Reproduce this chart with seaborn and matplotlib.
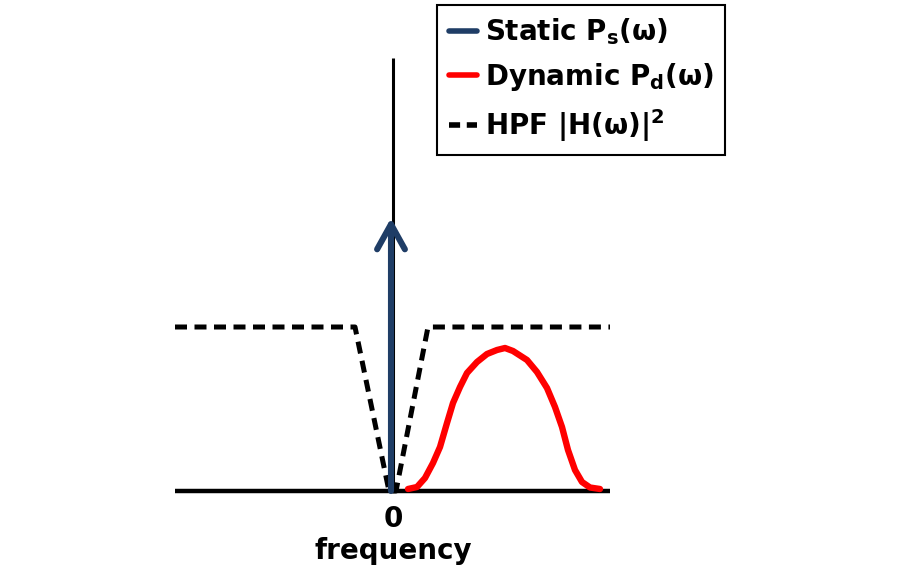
import numpy as np
import pandas as pd
import matplotlib
matplotlib.use("Agg")
import matplotlib.pyplot as plt
from matplotlib.lines import Line2D
import seaborn as sns

# ---- data (frequency axis, 0 = DC) ----
axis_x = [-2.18, 2.17]
axis_top = 4.33

static_freq = [0.0]
static_power = [2.73]

hpf_freq = [-2.18, -0.38, -0.04, 0.03, 0.35, 2.17]
hpf_gain = [1.64, 1.64, 0.0, 0.0, 1.64, 1.64]

dyn_freq = [0.15, 0.24, 0.32, 0.40, 0.47, 0.54, 0.60, 0.67, 0.74, 0.84, 0.94, 1.04,
            1.12, 1.20, 1.34, 1.44, 1.54, 1.62, 1.69, 1.75, 1.82, 1.89, 1.97, 2.07]
dyn_power = [0.02, 0.04, 0.13, 0.28, 0.44, 0.68, 0.88, 1.04, 1.18, 1.29, 1.37, 1.41,
             1.43, 1.40, 1.31, 1.19, 1.03, 0.84, 0.64, 0.41, 0.21, 0.09, 0.035, 0.02]

labels = ["Static P$_\\mathregular{s}$(ω)", "Dynamic P$_\\mathregular{d}$(ω)", "HPF |H(ω)|$^\\mathregular{2}$"]

sns.set_style("white")
FONT = 'DejaVu Sans'
plt.rcParams['font.family'] = [FONT]
plt.rcParams['font.weight'] = 'bold'
plt.rcParams['text.color'] = 'black'
plt.rcParams['mathtext.fontset'] = 'custom'
plt.rcParams['mathtext.rm'] = FONT + ':bold'
plt.rcParams['mathtext.bf'] = FONT + ':bold'

fig = plt.figure(figsize=(9.15, 5.72), dpi=100)
ax = fig.add_axes([0, 0, 1, 1])
ax.set_xlim(-3.93, 5.22)
ax.set_ylim(-0.81, 4.91)
ax.axis('off')

# axes lines
ax.plot(axis_x, [0, 0], color='black', lw=3.2, solid_capstyle='butt', zorder=2)
ax.plot([0, 0], [0, axis_top], color='black', lw=2.2, solid_capstyle='butt', zorder=2)

# HPF dashed
hpf = pd.DataFrame({"f": hpf_freq, "g": hpf_gain})
sns.lineplot(data=hpf, x="f", y="g", sort=False, color='black', lw=3.6,
             dashes=False, linestyle=(0, (2.4, 1.5)), ax=ax, zorder=3)

# Dynamic spectrum
dyn = pd.DataFrame({"f": dyn_freq, "p": dyn_power})
sns.lineplot(data=dyn, x="f", y="p", color='#ff0000', lw=4.6, ax=ax, zorder=4)
for ln in ax.get_lines():
    ln.set_solid_joinstyle('round')

# Static spectrum arrow
blue = '#1f3d66'
ax.annotate("", xy=(static_freq[0] - 0.02, static_power[0]), xytext=(static_freq[0] - 0.02, 0.0),
            arrowprops=dict(arrowstyle='->,head_length=1.8,head_width=1.0', color=blue, lw=4.4,
                            shrinkA=0, shrinkB=0, capstyle='round', joinstyle='round'),
            zorder=5)

# tick label and axis label
ax.text(0.0, -0.14, "0", ha='center', va='top', fontsize=20, fontweight='bold', color='black')
ax.text(0.0, -0.46, "frequency", ha='center', va='top', fontsize=20, fontweight='bold', color='black')

handles = [Line2D([], [], color=blue, lw=4.0),
           Line2D([], [], color='#ff0000', lw=4.0),
           Line2D([], [], color='black', lw=4.0, linestyle=(0, (2.0, 1.2)))]
leg = fig.legend(handles, labels, loc='upper left', bbox_to_anchor=(0.478, 0.992),
                 prop={'family': FONT, 'weight': 'bold', 'size': 20},
                 frameon=True, fancybox=False, edgecolor='black', framealpha=1,
                 handlelength=1.0, handletextpad=0.3, labelspacing=0.5,
                 borderpad=0.42, borderaxespad=0)
leg.get_frame().set_linewidth(1.5)
for t in leg.get_texts():
    t.set_color('black')

fig.savefig("out.png", dpi=100)
